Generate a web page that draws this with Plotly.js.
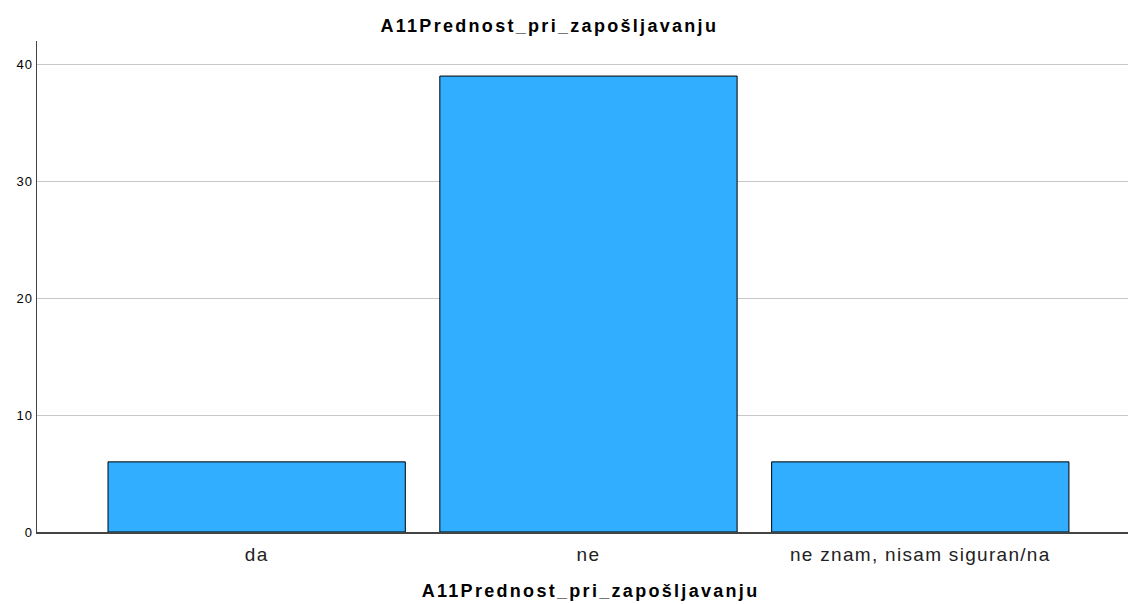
<!DOCTYPE html>
<html><head><meta charset="utf-8">
<script src="https://cdn.plot.ly/plotly-3.0.1.min.js"></script>
<style>
html,body{margin:0;padding:0;background:#fff}#chart{width:1128px;height:604px}
#chart .gtitle, #chart .annotation-text{letter-spacing:2.3px}
#chart .xtick text{letter-spacing:1.3px}
#chart .ytick text{letter-spacing:1px}
</style>
</head><body><div id="chart"></div>
<script>
const categories = ["da", "ne", "ne znam, nisam siguran/na"];
const counts = [6, 39, 6];
const yTicks = [0, 10, 20, 30, 40];
const titleText = "A11Prednost_pri_zapošljavanju";

const trace = {
  type: "bar",
  x: [0, 1, 2],
  y: counts,
  width: 0.896,
  marker: {color: "#31aeff", line: {color: "#000", width: 1}},
  hoverinfo: "none"
};
const layout = {
  width: 1128, height: 604,
  margin: {l: 37, r: 0, t: 41, b: 72},
  paper_bgcolor: "#fff", plot_bgcolor: "#fff",
  font: {family: "Liberation Sans, Arial, sans-serif", color: "#000"},
  title: {text: "<b>" + titleText + "</b>", xref: "container", yref: "container", x: 0.487, xanchor: "center", y: 0.958, yanchor: "middle", font: {size: 18, color: "#000"}},
  showlegend: false,
  bargap: 0,
  xaxis: {
    range: [-0.662, 2.626],
    tickvals: [0, 1, 2], ticktext: categories,
    tickfont: {size: 19, color: "#222"},
    ticklabelstandoff: 5,
    showgrid: false, zeroline: false,
    showline: true, linecolor: "#444", linewidth: 1.5,
    ticks: "", ticklen: 0
  },
  yaxis: {
    range: [0, 42],
    tickvals: yTicks,
    tickfont: {size: 13, color: "#000"},
    showgrid: true, gridcolor: "#c8c8c8", gridwidth: 1,
    zeroline: false,
    showline: true, linecolor: "#444", linewidth: 1.5,
    ticks: "", ticklen: 0
  },
  annotations: [{
    text: "<b>" + titleText + "</b>",
    xref: "paper", yref: "paper", x: 0.507, y: -0.12,
    xanchor: "center", yanchor: "middle", showarrow: false,
    font: {size: 18, color: "#000"}
  }]
};
Plotly.newPlot("chart", [trace], layout, {displayModeBar: false, staticPlot: true});
</script></body></html>
